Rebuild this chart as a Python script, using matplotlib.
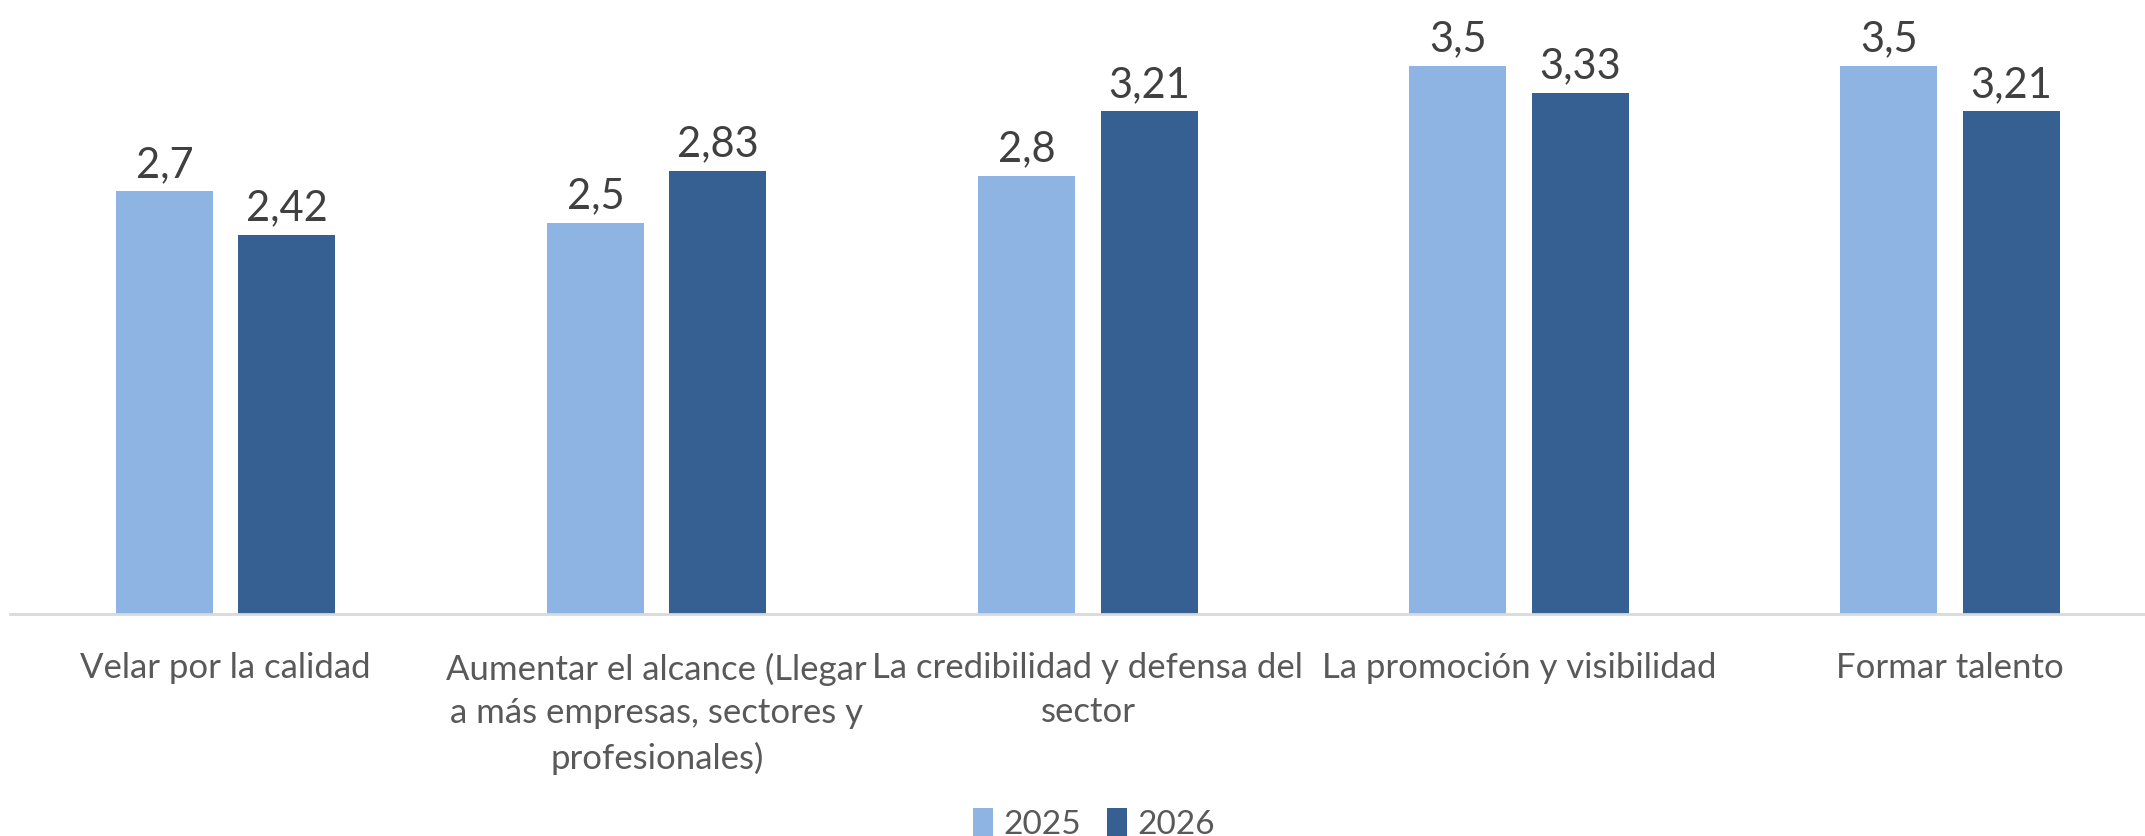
import matplotlib
matplotlib.use("Agg")
import matplotlib.pyplot as plt
import numpy as np

categories = [
    "Velar por la calidad",
    "Aumentar el alcance (Llegar\na más empresas, sectores y\nprofesionales)",
    "La credibilidad y defensa del\nsector",
    "La promoción y visibilidad",
    "Formar talento",
]
series_names = ["2025", "2026"]
values_2025 = [2.7, 2.5, 2.8, 3.5, 3.5]
values_2026 = [2.42, 2.83, 3.21, 3.33, 3.21]
colors = ["#8EB4E3", "#366092"]

plt.rcParams['font.family'] = ['Lato', 'DejaVu Sans']

W, H = 2145, 837
fig = plt.figure(figsize=(W / 100, H / 100), dpi=100)
left_px, base_px = 10, 615
ax = fig.add_axes([left_px / W, (H - base_px) / H, (W - left_px) / W, base_px / H])

x = np.arange(len(categories))
bw = 0.225
off = 0.142
for vals, name, c, o in [(values_2025, series_names[0], colors[0], -off),
                         (values_2026, series_names[1], colors[1], off)]:
    bars = ax.bar(x + o, vals, width=bw, color=c, label=name)
    for b, v in zip(bars, vals):
        ax.annotate(f"{v:g}".replace(".", ","), (b.get_x() + b.get_width() / 2, v),
                    xytext=(0, 6), textcoords="offset points", ha="center", va="bottom",
                    fontsize=30, color="#404040")

ax.set_xlim(-0.5, 4.452)
ax.set_ylim(0, 615 / 156.6)
ax.set_xticks(x)
ax.set_xticklabels(categories, fontsize=25, color="#595959", linespacing=1.45)
ax.tick_params(axis="x", length=0, pad=27)
ax.set_yticks([])
for s in ["top", "right", "left"]:
    ax.spines[s].set_visible(False)
ax.spines["bottom"].set_color("#D9D9D9")
ax.spines["bottom"].set_linewidth(2)

fig.legend(loc="lower center", bbox_to_anchor=(0.51, -0.04), ncol=2, frameon=False,
           fontsize=24, handlelength=0.6, handleheight=0.9, handletextpad=0.3,
           columnspacing=0.8, labelcolor="#595959")

fig.savefig("out.png", dpi=100)
